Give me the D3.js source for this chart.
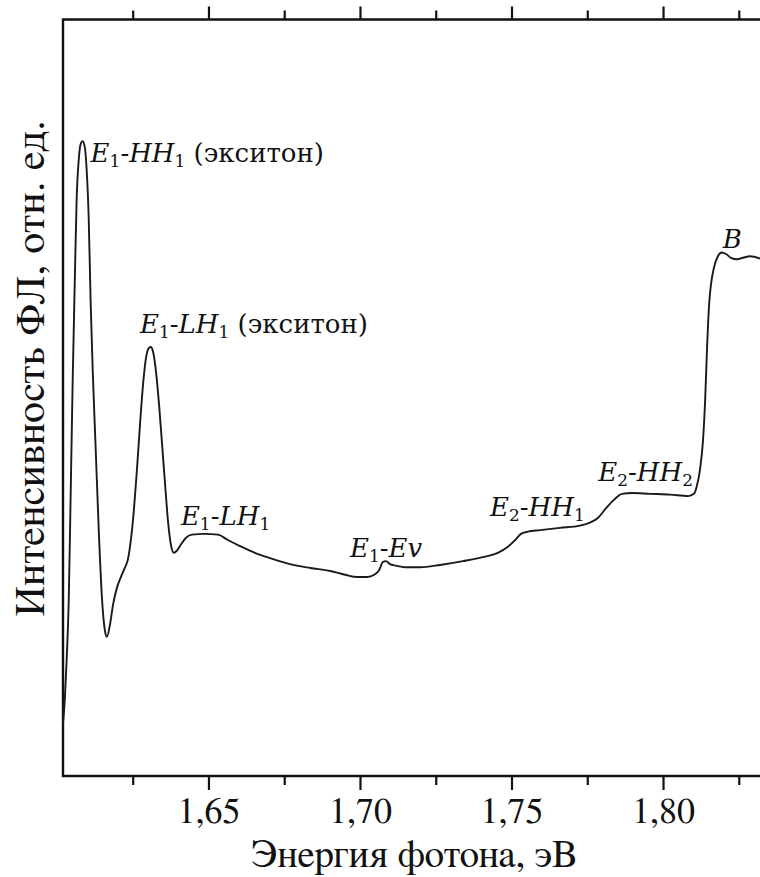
<!DOCTYPE html>
<html>
<head>
<meta charset="utf-8">
<script src="https://cdn.jsdelivr.net/npm/d3@7"></script>
<style>
  html, body { margin: 0; padding: 0; background: #fff; }
  svg { display: block; }
</style>
</head>
<body>
<svg id="chart" width="760" height="877"></svg>
<script>
// Photon energy, eV
const energy = [
  1.6020, 1.6026, 1.6032, 1.6039, 1.6045, 1.6052, 1.6059, 1.6065, 1.6072, 1.6078,
  1.6085, 1.6092, 1.6098, 1.6105, 1.6111, 1.6118, 1.6128, 1.6138, 1.6148, 1.6158,
  1.6165, 1.6175, 1.6185, 1.6198, 1.6211, 1.6224, 1.6234, 1.6244, 1.6254, 1.6264,
  1.6274, 1.6284, 1.6294, 1.6304, 1.6310, 1.6317, 1.6327, 1.6337, 1.6347, 1.6357,
  1.6366, 1.6376, 1.6386, 1.6396, 1.6409, 1.6426, 1.6446, 1.6488, 1.6531, 1.6564,
  1.6604, 1.6653, 1.6703, 1.6769, 1.6836, 1.6902, 1.6951, 1.6991, 1.7024, 1.7047,
  1.7063, 1.7076, 1.7086, 1.7099, 1.7119, 1.7149, 1.7198, 1.7264, 1.7340, 1.7413,
  1.7455, 1.7488, 1.7512, 1.7531, 1.7554, 1.7594, 1.7660, 1.7726, 1.7759, 1.7785,
  1.7812, 1.7838, 1.7865, 1.7898, 1.7957, 1.8023, 1.8083, 1.8102, 1.8112, 1.8122,
  1.8132, 1.8139, 1.8145, 1.8152, 1.8158, 1.8168, 1.8181, 1.8194, 1.8208, 1.8224,
  1.8244, 1.8264, 1.8287, 1.8320
];

// PL intensity, arb. units
const intensity = [
   7.0, 10.1, 15.3, 23.3, 36.5, 52.4, 65.6, 76.2, 81.5, 83.5,
  83.9, 83.1, 80.2, 73.5, 63.0, 53.7, 43.1, 32.5, 23.9, 19.3,
  18.4, 20.0, 22.6, 24.9, 26.3, 27.5, 28.6, 31.2, 35.2, 40.5,
  46.4, 51.7, 55.3, 56.6, 56.7, 56.1, 53.4, 49.1, 43.8, 38.5,
  33.9, 30.6, 29.5, 29.8, 30.6, 31.5, 31.9, 32.0, 31.9, 31.2,
  30.4, 29.5, 28.8, 28.0, 27.5, 27.1, 26.6, 26.3, 26.3, 26.6,
  27.2, 28.3, 28.4, 28.0, 27.8, 27.6, 27.6, 27.9, 28.4, 29.0,
  29.5, 30.3, 31.2, 32.0, 32.3, 32.5, 32.8, 33.1, 33.5, 34.1,
  35.4, 36.5, 37.3, 37.4, 37.3, 37.2, 37.0, 37.3, 38.4, 40.5,
  44.4, 49.7, 56.3, 62.3, 64.9, 67.2, 68.7, 69.2, 69.0, 68.5,
  68.3, 68.5, 68.7, 68.4
];

// Axis ticks
const majorTicks = [1.65, 1.70, 1.75, 1.80];
const minorTicks = [1.625, 1.675, 1.725, 1.775, 1.825];

// Transition labels: anchor (energy, intensity) and text pieces
// piece kinds: "i" italic, "s" subscript, "n" upright
const labelNames = ["E1-HH1 (экситон)", "E1-LH1 (экситон)", "E1-LH1", "E1-Ev", "E2-HH1", "E2-HH2", "B"];
const labelEnergy = [1.6111, 1.6274, 1.6409, 1.6967, 1.7429, 1.7786, 1.8197];
const labelIntensity = [81.1, 58.6, 33.2, 29.0, 34.4, 39.0, 69.8];
const labelPieces = [
  [["i","E"],["s","1"],["n","-"],["i","HH"],["s","1"],["n"," (экситон)"]],
  [["i","E"],["s","1"],["n","-"],["i","LH"],["s","1"],["n"," (экситон)"]],
  [["i","E"],["s","1"],["n","-"],["i","LH"],["s","1"]],
  [["i","E"],["s","1"],["n","-"],["i","Ev"]],
  [["i","E"],["s","2"],["n","-"],["i","HH"],["s","1"]],
  [["i","E"],["s","2"],["n","-"],["i","HH"],["s","2"]],
  [["i","B"]]
];

const xLabel = "Энергия фотона, эВ";
const yLabel = "Интенсивность ФЛ, отн. ед.";

// ---- layout ----
const SERIF = "FreeSerif, 'Noto Serif CJK SC', serif";
const LABEL_FONT = "'DejaVu Serif', FreeSerif, serif";
const mLeft = 63, mRight = 760, mTop = 19.5, mBottom = 776;

const svg = d3.select("#chart");

const x = d3.scaleLinear().domain([1.602, 1.832]).range([mLeft, mRight]);
const y = d3.scaleLinear().domain([0, 100]).range([mBottom, mTop]);

const fmt = v => d3.format(".2f")(v).replace(".", ",");

function styleAxis(g) {
  g.attr("font-family", null);
  g.select(".domain").remove();
  g.selectAll("line").attr("stroke", "#111").attr("stroke-width", 2.2);
}

// bottom axis: major ticks with labels
const gBot = svg.append("g")
  .attr("transform", `translate(0,${mBottom})`)
  .call(d3.axisBottom(x).tickValues(majorTicks).tickSize(14).tickSizeOuter(0).tickFormat(fmt))
  .call(styleAxis);
gBot.selectAll("text")
  .style("font-family", SERIF)
  .attr("font-size", 36).attr("fill", "#111")
  .attr("dy", 0).attr("y", 46.5);
// bottom axis: minor ticks
svg.append("g")
  .attr("transform", `translate(0,${mBottom})`)
  .call(d3.axisBottom(x).tickValues(minorTicks).tickSize(9).tickSizeOuter(0).tickFormat(""))
  .call(styleAxis);

// top axis: ticks only, pointing outward
svg.append("g")
  .attr("transform", `translate(0,${mTop})`)
  .call(d3.axisTop(x).tickValues(majorTicks).tickSize(13).tickSizeOuter(0).tickFormat(""))
  .call(styleAxis);
svg.append("g")
  .attr("transform", `translate(0,${mTop})`)
  .call(d3.axisTop(x).tickValues(minorTicks).tickSize(9).tickSizeOuter(0).tickFormat(""))
  .call(styleAxis);

// frame: left, top and bottom edges
svg.append("path")
  .attr("d", `M${mRight},${mTop}H${mLeft}V${mBottom}H${mRight}`)
  .attr("fill", "none").attr("stroke", "#111").attr("stroke-width", 2.4);

// spectrum curve
const pts = energy.map((e, i) => [e, intensity[i]]);
const line = d3.line().x(d => x(d[0])).y(d => y(d[1])).curve(d3.curveMonotoneX);
svg.append("path")
  .datum(pts)
  .attr("d", line)
  .attr("fill", "none")
  .attr("stroke", "#1a1a1a")
  .attr("stroke-width", 1.9)
  .attr("stroke-linejoin", "round");

// transition labels
labelNames.forEach((name, k) => {
  const t = svg.append("text")
    .style("font-family", LABEL_FONT)
    .attr("fill", "#111")
    .attr("x", x(labelEnergy[k])).attr("y", y(labelIntensity[k]))
    .attr("font-size", 26);
  let shift = 0;
  labelPieces[k].forEach(([kind, s]) => {
    const ts = t.append("tspan").text(s);
    if (kind === "s") {
      ts.attr("font-size", 17).attr("dy", 5 - shift);
      shift = 5;
    } else {
      ts.attr("dy", -shift);
      shift = 0;
      if (kind === "i") ts.attr("font-style", "italic");
    }
  });
});

// axis titles
svg.append("text")
  .style("font-family", SERIF)
  .attr("fill", "#111")
  .attr("x", 414).attr("y", 867)
  .attr("text-anchor", "middle")
  .attr("font-size", 39)
  .text(xLabel);

svg.append("text")
  .style("font-family", SERIF)
  .attr("fill", "#111")
  .attr("transform", "translate(44,368) rotate(-90)")
  .attr("text-anchor", "middle")
  .attr("font-size", 42)
  .attr("letter-spacing", 0.5)
  .text(yLabel);
</script>
</body>
</html>
